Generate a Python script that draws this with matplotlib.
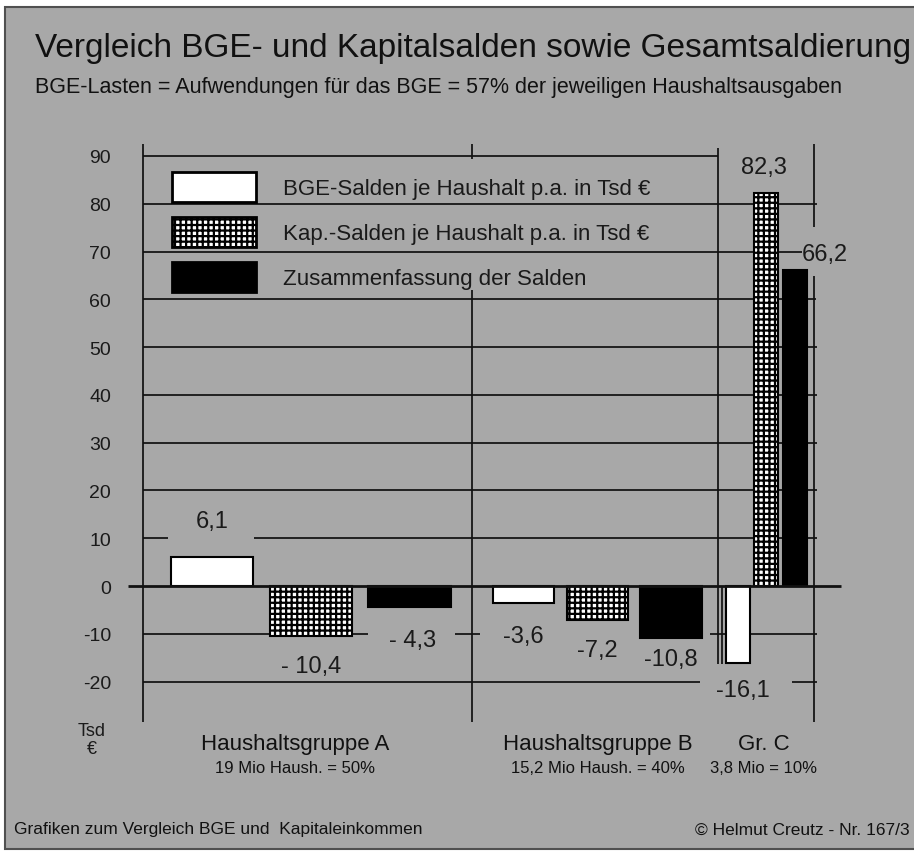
import matplotlib.pyplot as plt
from matplotlib.patches import Rectangle
import numpy as np

plt.rcParams['font.family'] = ['Liberation Sans', 'DejaVu Sans']
plt.rcParams['hatch.linewidth'] = 1.6
plt.rcParams['hatch.color'] = 'black'

# --- data -------------------------------------------------------------
groups = ['Haushaltsgruppe A', 'Haushaltsgruppe B', 'Gr. C']
group_notes = ['19 Mio Haush. = 50%', '15,2 Mio Haush. = 40%', '3,8 Mio = 10%']
series = ['BGE-Salden je Haushalt p.a. in Tsd €',
          'Kap.-Salden je Haushalt p.a. in Tsd €',
          'Zusammenfassung der Salden']
bge_salden = [6.1, -3.6, -16.1]
kap_salden = [-10.4, -7.2, 82.3]
gesamt_salden = [-4.3, -10.8, 66.2]
bge_text = ['6,1', '-3,6', '-16,1']
kap_text = ['- 10,4', '-7,2', '82,3']
gesamt_text = ['- 4,3', '-10,8', '66,2']
yticks = [90, 80, 70, 60, 50, 40, 30, 20, 10, 0, -10, -20]

# --- layout -------------------------------------------------------------
W, H = 914, 854
BG = '#a8a8a8'
group_w = [49.1, 36.7, 14.2]          # x extent of each group on the 0..100 axis
group_x0 = np.concatenate([[0], np.cumsum(group_w)[:-1]])
slot = [0.21, 0.51, 0.81]              # bar centre as fraction of group width
bar_frac = 0.25

# label placement (x offset, y position) per series and group
lab_dx = [[0, 0, 0.8], [0, 0, -0.3], [0.4, 0, 4.5]]
lab_y = [[13.6, -10.5, -21.8], [-16.7, -13.4, 87.7], [-11.3, -15.3, 69.5]]

fig = plt.figure(figsize=(W / 100, H / 100), dpi=100, facecolor='white')
fig.patches.append(Rectangle((5 / W, 1 - 850 / H), 1.0, (850 - 8) / H,
                             transform=fig.transFigure, facecolor=BG,
                             edgecolor='#505050', lw=1.5, zorder=-5))

ax = fig.add_axes([143 / W, 1 - 723 / H, 670 / W, (723 - 145) / H])
ax.set_facecolor('none')
ax.set_xlim(0, 100)
ax.set_ylim(-28.45, 92.5)
for s in ax.spines.values():
    s.set_visible(False)
ax.set_xticks([])
ax.set_yticks(yticks)
ax.set_yticklabels([str(t) for t in yticks])
ax.tick_params(axis='y', length=0, pad=23, labelsize=14, labelcolor='#1a1a1a')

line_kw = dict(color='#111111', lw=1.25, zorder=1, solid_capstyle='butt')

# horizontal grid segments (x from, x to) per level
hsegs = {
    90: [(0, 85.8)],
    80: [(0, 100.6)],
    70: [(0, 98.4)],
    60: [(0, 100.4)],
    50: [(0, 100.6)], 40: [(0, 100.6)], 30: [(0, 100.6)], 20: [(0, 100.6)],
    10: [(0, 3.7), (16.6, 100.6)],
    -10: [(0, 33.6), (46.6, 50.3), (84.6, 100.6)],
    -20: [(0, 83.1), (96.9, 100.6)],
}
for lev, segs in hsegs.items():
    for a, b in segs:
        ax.plot([a, b], [lev, lev], clip_on=False, **line_kw)

# vertical lines (x, y from, y to)
vsegs = [(0, 92.5, -28.4), (49.1, 92.5, 89.4), (49.1, 62.0, -28.4),
         (85.8, 91.6, -16.3), (86.4, 0, -16.3),
         (100.1, 92.5, 75.1), (100.1, 64.9, -28.4)]
for x, a, b in vsegs:
    ax.plot([x, x], [a, b], clip_on=False, **line_kw)
ax.plot([-2.2, 104.2], [0, 0], color='#111111', lw=2.0, zorder=4,
        clip_on=False, solid_capstyle='butt')

# bars
values = [bge_salden, kap_salden, gesamt_salden]
texts = [bge_text, kap_text, gesamt_text]
styles = [dict(color='white', hatch=None), dict(color='white', hatch='+++'),
          dict(color='black', hatch=None)]
handles = []
for i, (vals, st) in enumerate(zip(values, styles)):
    xs = group_x0 + np.array(group_w) * slot[i]
    ws = np.array(group_w) * bar_frac
    bc = ax.bar(xs, vals, width=ws, color=st['color'], hatch=st['hatch'],
                edgecolor='black', linewidth=1.5, zorder=3, label=series[i])
    handles.append(bc)
    for j, (x, t) in enumerate(zip(xs, texts[i])):
        ax.text(x + lab_dx[i][j], lab_y[i][j], t, ha='center', va='center',
                fontsize=17, color='#1a1a1a', zorder=5)

leg = ax.legend(handles=handles, loc='upper left',
                bbox_to_anchor=(172 / W, 1 - 173 / H), bbox_transform=fig.transFigure,
                frameon=False, fontsize=16, handlelength=3.78, handleheight=1.7,
                labelspacing=0.68, handletextpad=1.22, borderpad=0, borderaxespad=0,
                labelcolor='#1a1a1a')
for h in leg.legend_handles:
    h.set_linewidth(2.0)

# texts
fig.text(35 / W, 1 - 48 / H, 'Vergleich BGE- und Kapitalsalden sowie Gesamtsaldierung',
         fontsize=24, va='center', ha='left', color='#111111')
fig.text(35 / W, 1 - 88 / H,
         'BGE-Lasten = Aufwendungen für das BGE = 57% der jeweiligen Haushaltsausgaben',
         fontsize=15.5, va='center', ha='left', color='#111111')
fig.text(92 / W, 1 - 732 / H, 'Tsd', fontsize=13, ha='center', va='center', color='#1a1a1a')
fig.text(92 / W, 1 - 750 / H, '€', fontsize=13, ha='center', va='center', color='#1a1a1a')

label_px = [295, 598, 764]
for px, g, n in zip(label_px, groups, group_notes):
    fig.text(px / W, 1 - 745 / H, g, fontsize=16, ha='center', va='center', color='#111111')
    fig.text(px / W, 1 - 769 / H, n, fontsize=12, ha='center', va='center', color='#111111')

fig.text(14 / W, 1 - 830 / H, 'Grafiken zum Vergleich BGE und  Kapitaleinkommen',
         fontsize=12.5, ha='left', va='center', color='#111111')
fig.text(910 / W, 1 - 830 / H, '© Helmut Creutz - Nr. 167/3',
         fontsize=12.5, ha='right', va='center', color='#111111')

fig.savefig('out.png', dpi=100)
